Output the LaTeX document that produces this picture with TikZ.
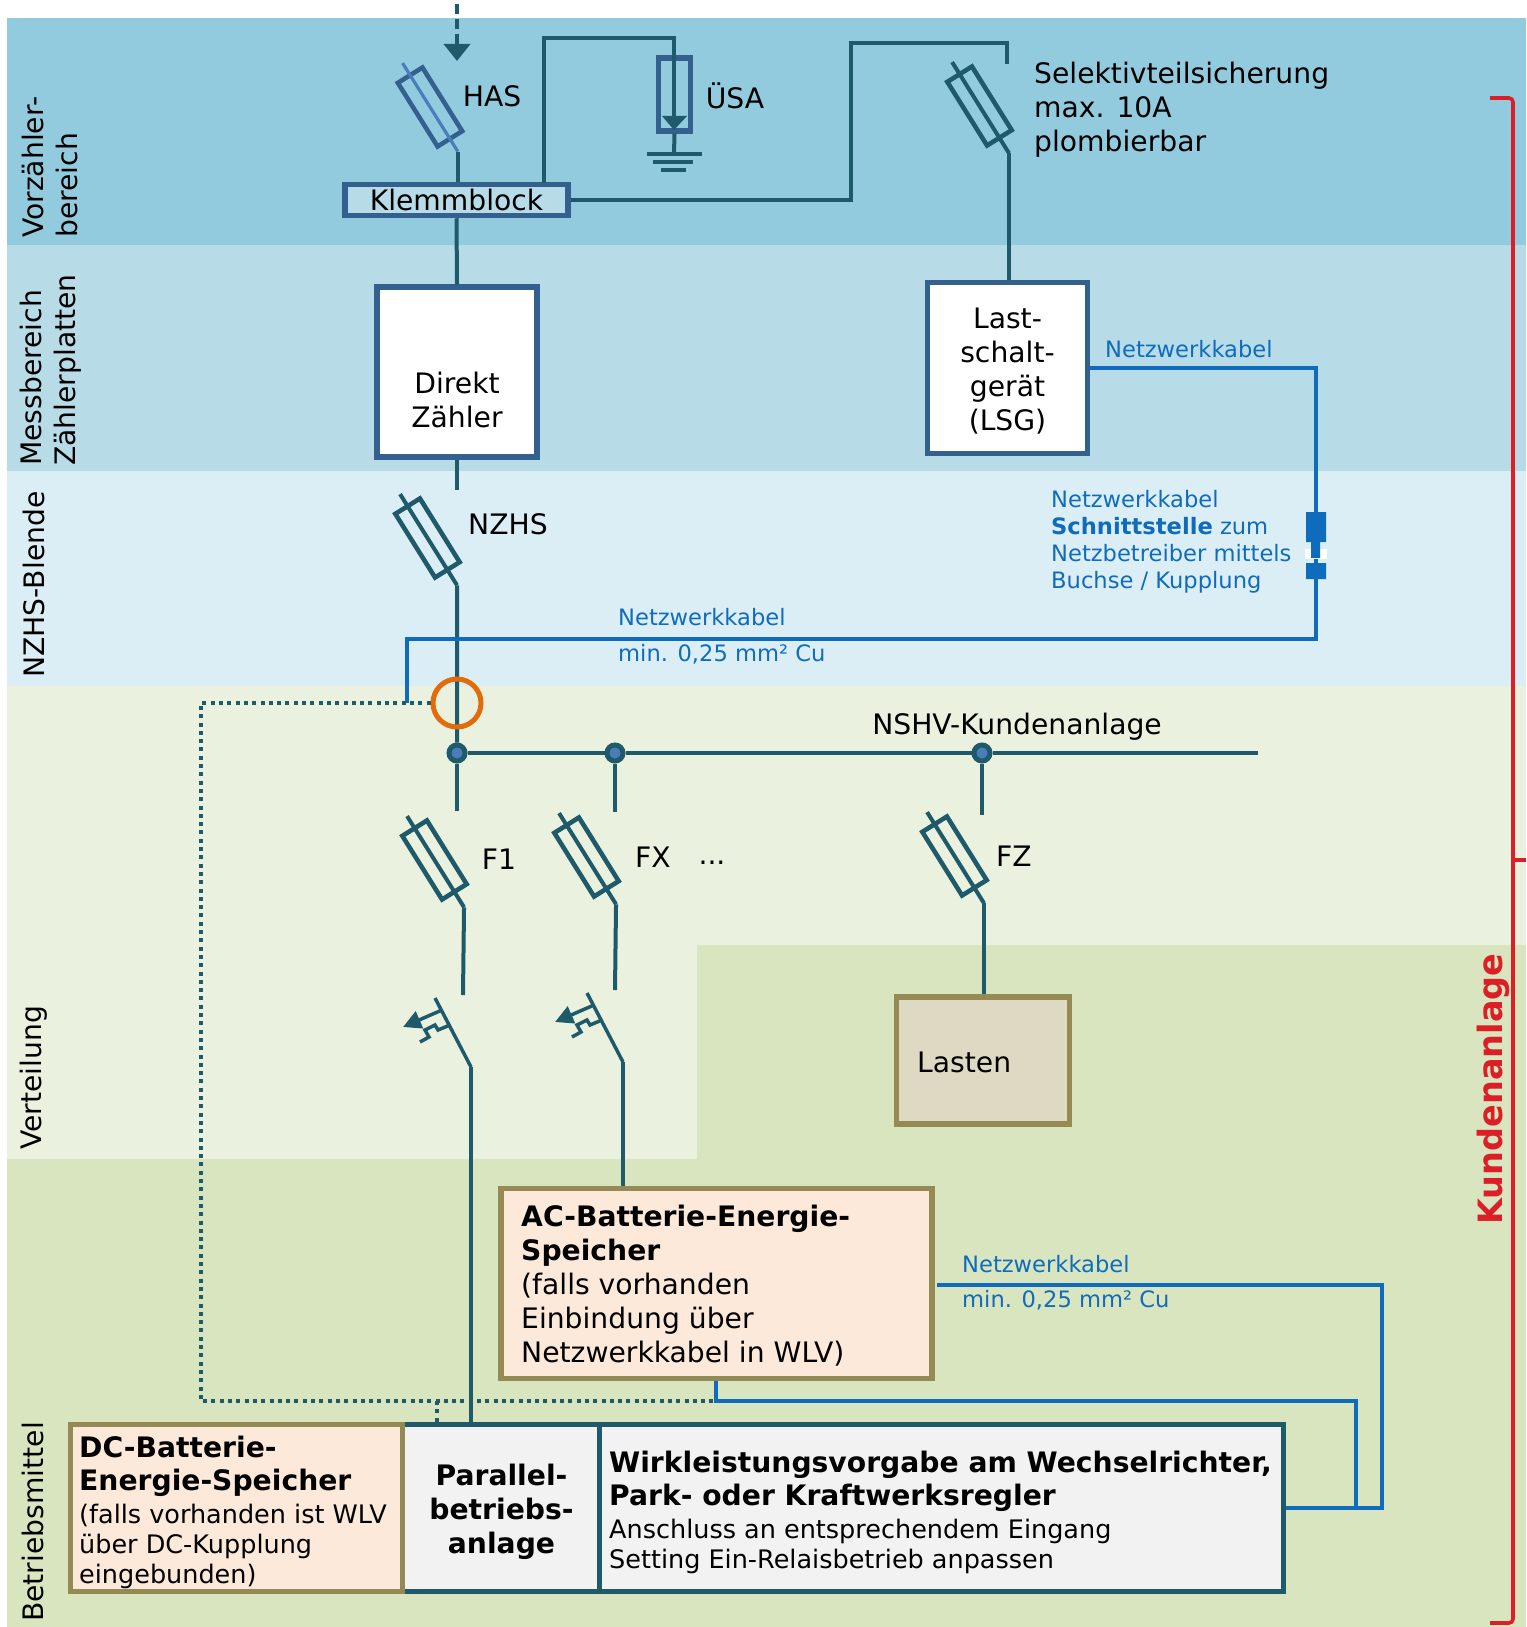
\documentclass[tikz,border=0pt]{standalone}
\usepackage{fontspec}
\setmainfont{DejaVu Sans}
\usepackage{tikz}
\usetikzlibrary{arrows.meta,calc}
\definecolor{bandA}{HTML}{93CBDE}
\definecolor{bandB}{HTML}{B7DCE8}
\definecolor{bandC}{HTML}{DCEEF5}
\definecolor{bandD}{HTML}{EBF1DF}
\definecolor{bandE}{HTML}{D9E5BE}
\definecolor{leiter}{HTML}{1F5A6B}
\definecolor{rahmen}{HTML}{33608F}
\definecolor{netzblau}{HTML}{0F6CBD}
\definecolor{oliv}{HTML}{948A54}
\definecolor{pfirsich}{HTML}{FDE9D9}
\definecolor{lastgrau}{HTML}{DDD9C3}
\definecolor{stahlblau}{HTML}{4A7EBB}
\definecolor{wandlerrot}{HTML}{E36C0A}
\definecolor{klammerrot}{HTML}{DC1F26}
\newcommand\gross{\fontsize{28.2}{34}\selectfont}
\newcommand\mittel{\fontsize{25.5}{30}\selectfont}
\newcommand\klein{\fontsize{22.6}{27}\selectfont}
\tikzset{
    leitung/.style={draw=leiter, line width=4pt}, % Leitungen
    netzkabel/.style={draw=netzblau, line width=4pt}, % Netzwerkkabel
    steuer/.style={draw=leiter, line width=3.6pt, dash pattern=on 4pt off 4.3pt}, % punktierte Leitung
    sicherung/.style={draw=leiter, line width=4.6pt, minimum width=75pt, minimum height=29pt, inner sep=0pt, rotate=-58},
    knoten/.style={circle, draw=leiter, fill=stahlblau, line width=5pt, minimum size=16pt, inner sep=0pt},
    blauebox/.style={draw=rahmen, line width=5.5pt, inner sep=0pt},
    olivbox/.style={draw=oliv, line width=5.5pt, inner sep=0pt},
    anlagebox/.style={draw=leiter, fill=black!5, line width=5.5pt, inner sep=0pt, minimum height=167pt},
    beschr/.style={inner sep=0pt, font=\gross, align=left, anchor=west},
    blautext/.style={inner sep=0pt, font=\klein, align=left, anchor=west, text=netzblau},
    bereich/.style={inner sep=0pt, font=\gross, align=left, anchor=west, rotate=90}
}
\begin{document}
\begin{tikzpicture}[x=1pt, y=-1pt]
    \useasboundingbox (0,0) rectangle (1526,1627);

    % Bereiche
    \fill[bandA] (7,18) rectangle (1526,245);
    \fill[bandB] (7,245) rectangle (1526,471);
    \fill[bandC] (7,471) rectangle (1526,686);
    \fill[bandD] (7,686) rectangle (1526,1627);
    \fill[bandE] (697,945) rectangle (1526,1627);
    \fill[bandE] (7,1159) rectangle (697,1627);

    \node[bereich] (vorz) at (50,238) {Vorzähler-\\bereich};
    \node[bereich] (mess) at (51,466) {Messbereich\\Zählerplatten};
    \node[bereich] (blende) at (34,678) {NZHS-Blende};
    \node[bereich] (vert) at (34,1150) {Verteilung};
    \node[bereich] (betr) at (33,1622) {Betriebsmittel};

    % Kaesten
    \node[blauebox, fill=bandB, minimum width=223pt, minimum height=31pt, font=\gross] (klemm) at (456.5,200) {Klemmblock};
    \node[blauebox, fill=white, minimum width=160pt, minimum height=170pt] (zaehler) at (457,372) {};
    \node[beschr, anchor=center, align=center] (zaehlertxt) at (457,400) {Direkt\\Zähler};
    \node[blauebox, fill=white, minimum width=160pt, minimum height=171pt] (lsg) at (1007.5,368) {};
    \node[beschr, anchor=center, align=center] (lsgtxt) at (1007.5,371) {Last-\\schalt-\\gerät\\(LSG)};
    \node[olivbox, fill=lastgrau, minimum width=173pt, minimum height=127pt] (lasten) at (983,1060.5) {};
    \node[beschr] (lastentxt) at (917,1062) {Lasten};
    \node[olivbox, fill=pfirsich, minimum width=431pt, minimum height=190pt] (ac) at (716.5,1283.5) {};
    \node[beschr] (actxt) at (521,1286) {\textbf{AC-Batterie-Energie-}\\\textbf{Speicher}\\(falls vorhanden\\Einbindung über\\Netzwerkkabel in WLV)};
    \node[anlagebox, minimum width=198pt] (par) at (501.5,1508) {};
    \node[beschr, anchor=center, align=center] (partxt) at (501.5,1512) {\textbf{Parallel-}\\\textbf{betriebs-}\\\textbf{anlage}};
    \node[anlagebox, minimum width=684pt] (wirk) at (941.5,1508) {};
    \node[beschr, font=\mittel] (wirktxt) at (609,1512)
        {{\gross\textbf{Wirkleistungsvorgabe am Wechselrichter,}}\\[3pt]{\gross\textbf{Park- oder Kraftwerksregler}}\\[3pt]Anschluss an entsprechendem Eingang\\Setting Ein-Relaisbetrieb anpassen};
    \node[olivbox, fill=pfirsich, minimum width=332pt, minimum height=167pt] (dc) at (236.5,1508) {};
    \node[beschr, font=\mittel] (dctxt) at (79,1512)
        {{\gross\textbf{DC-Batterie-}}\\[3pt]{\gross\textbf{Energie-Speicher}}\\[3pt](falls vorhanden ist WLV\\über DC-Kupplung\\eingebunden)};

    % Sicherungen
    \foreach \name/\x/\y in {nzhs/427.5/538, f1/434.5/860, fx/586.5/857, fz/954.5/856, sel/979.5/106} {
        \node[sicherung] (\name) at (\x,\y) {};
        \coordinate (\name-a) at ($(\name.west)!-0.15!(\name.east)$);
        \coordinate (\name-b) at ($(\name.west)!1.2!(\name.east)$);
        \draw[leitung] (\name-a) -- (\name-b);
    }
    \node[sicherung, draw=rahmen] (has) at (430,107) {};
    \coordinate (has-a) at ($(has.west)!-0.15!(has.east)$);
    \coordinate (has-b) at ($(has.west)!1.16!(has.east)$);
    \draw[stahlblau, line width=3.2pt] (has-a) -- (has-b);

    % Einspeisung und Klemmblock
    \coordinate (einsp) at (457,4);
    \coordinate (einspe) at (457,61);
    \draw[leitung, dash pattern=on 10pt off 5pt, -{Triangle[length=17pt,width=26pt]}] (einsp) -- (einspe);
    \draw[leitung] (has-b) -- (has-b |- klemm.north);
    \draw[leitung] (klemm.south) -- (zaehler.north);
    \draw[leitung] (zaehler.south) -- (457,490);
    \node[inner sep=0pt, font=\gross] (hastxt) at (492,96) {HAS};

    % Ueberspannungsableiter
    \node[blauebox, minimum width=32pt, minimum height=73pt] (usa) at (674.5,94.5) {};
    \coordinate (usaoben) at (544,38);
    \coordinate (usamitte) at (674,38);
    \coordinate (usaspitze) at (674,130);
    \coordinate (erde) at (674,154);
    \draw[leitung] (544,183) -- (usaoben) -- (usamitte) -- (674,118);
    \fill[leiter] (662,116) -- (687,116) -- (usaspitze) -- cycle;
    \draw[leitung] (usa.south) -- (erde);
    \draw[leitung] (647,154) -- (702,154) (653,162) -- (693,162) (661,170) -- (686,170);
    \node[inner sep=0pt, font=\gross] (usatxt) at (735,96) {ÜSA};

    % Selektivteilsicherung
    \coordinate (selknick1) at (851,200);
    \coordinate (selknick2) at (851,43);
    \coordinate (selknick3) at (1007,43);
    \coordinate (selende) at (1007,64);
    \draw[leitung] (klemm.east) -- (selknick1) -- (selknick2) -- (selknick3) -- (selende);
    \draw[leitung] (sel-b) -- (sel-b |- lsg.north);
    \node[beschr] (seltxt) at (1034,110) {Selektivteilsicherung\\max. 10A\\plombierbar};

    % Sammelschiene
    \node[inner sep=0pt, font=\gross] (nzhstxt) at (508,524) {NZHS};
    \node[inner sep=0pt, font=\gross] (nshv) at (1017,727) {NSHV-Kundenanlage};
    \node[knoten] (j1) at (457,753) {};
    \node[knoten] (j2) at (615,753) {};
    \node[knoten] (j3) at (982,753) {};
    \coordinate (busende) at (1258,753);
    \draw[leitung] (nzhs-b) -- (j1);
    \draw[leitung] (j1) -- (j2) -- (j3) -- (busende);
    \draw[leitung] (j1) -- (457,811);
    \draw[leitung] (j2) -- (615,812);
    \draw[leitung] (j3) -- (982,815);
    \draw[leitung] (fz-b) -- (fz-b |- lasten.north);
    \node[inner sep=0pt, font=\gross] (f1txt) at (499,859) {F1};
    \node[inner sep=0pt, font=\gross] (fxtxt) at (653,857) {FX};
    \node[inner sep=0pt, font=\gross] (punkte) at (712,863) {...};
    \node[inner sep=0pt, font=\gross] (fztxt) at (1014,856) {FZ};

    % Schalter
    \foreach \sn/\dx/\dy in {s1/0/0, sx/152/-5} {
        \begin{scope}[shift={(\dx,\dy)}]
            \coordinate (\sn-a) at (435,998);
            \coordinate (\sn-b) at (471,1067);
            \draw[leiter, line width=3.5pt] (\sn-a) -- (\sn-b);
            \draw[leiter, line width=3.5pt, -{Triangle[length=18pt,width=18pt]}] (442,1010) -- (403,1027);
            \draw[leiter, line width=3.5pt] (450,1025) -- (438,1030) -- (435,1025) -- (425,1030) -- (429,1037) -- (420,1042);
        \end{scope}
    }
    \draw[leitung] (f1-b) -- (463,995);
    \draw[leitung] (fx-b) -- (615,990);
    \draw[leitung] (s1-b) -- (s1-b |- par.north);
    \draw[leitung] (sx-b) -- (sx-b |- ac.north);

    % Netzwerkkabel
    \coordinate (nk1) at (1316,639);
    \coordinate (nk2) at (407,639);
    \coordinate (nk3) at (407,703);
    \draw[netzkabel] (lsg.east) -| (nk1) -- (nk2) -- (nk3);
    \fill[white] (1305,549) rectangle (1327,559);
    \fill[netzblau] (1306,512) rectangle (1326,542) (1311,542) rectangle (1320,558) (1306,563) rectangle (1326,579);
    \node[blautext] (nk1txt) at (1105,349) {Netzwerkkabel};
    \node[blautext] (nk2txt) at (1051,542) {Netzwerkkabel\\\textbf{Schnittstelle} zum\\Netzbetreiber mittels\\Buchse / Kupplung};
    \node[blautext] (nk3txt) at (618,617) {Netzwerkkabel};
    \node[blautext] (nk4txt) at (618,654) {min. 0,25 mm² Cu};
    \node[blautext] (nk5txt) at (962,1264) {Netzwerkkabel};
    \node[blautext] (nk6txt) at (962,1300) {min. 0,25 mm² Cu};

    \coordinate (ak1) at (716,1401);
    \coordinate (ak2) at (1356,1401);
    \coordinate (ak3) at (1356,1508);
    \coordinate (ak4) at (937,1285);
    \coordinate (ak5) at (1382,1285);
    \coordinate (ak6) at (1382,1508);
    \draw[netzkabel] (ak1 |- ac.south) -- (ak1) -- (ak2) -- (ak3);
    \draw[netzkabel] (ak4) -- (ak5) -- (ak6) -- (wirk.east);

    % Messwandler und punktierte Leitung
    \node[circle, draw=wandlerrot, line width=5pt, minimum size=48pt, inner sep=0pt] (wandler) at (457,703) {};
    \coordinate (st1) at (201,703);
    \coordinate (st2) at (201,1401);
    \coordinate (st3) at (437,1401);
    \draw[steuer] (wandler.west) -- (st1) -- (st2) -- (ak1);
    \draw[steuer] (st3) -- (st3 |- par.north);

    % Kundenanlage
    \coordinate (kl1) at (1490,98);
    \coordinate (kl2) at (1513,98);
    \coordinate (kl3) at (1513,1623);
    \coordinate (kl4) at (1490,1623);
    \coordinate (kl5) at (1526,860);
    \draw[klammerrot, line width=3.6pt, rounded corners=4pt] (kl1) -- (kl2) -- (kl3) -- (kl4);
    \draw[klammerrot, line width=3.6pt] (1513,860) -- (kl5);
    \node[inner sep=0pt, font=\fontsize{33.5}{36}\selectfont\bfseries, text=klammerrot, rotate=90] (kunde) at (1493,1089) {Kundenanlage};
\end{tikzpicture}
\end{document}
